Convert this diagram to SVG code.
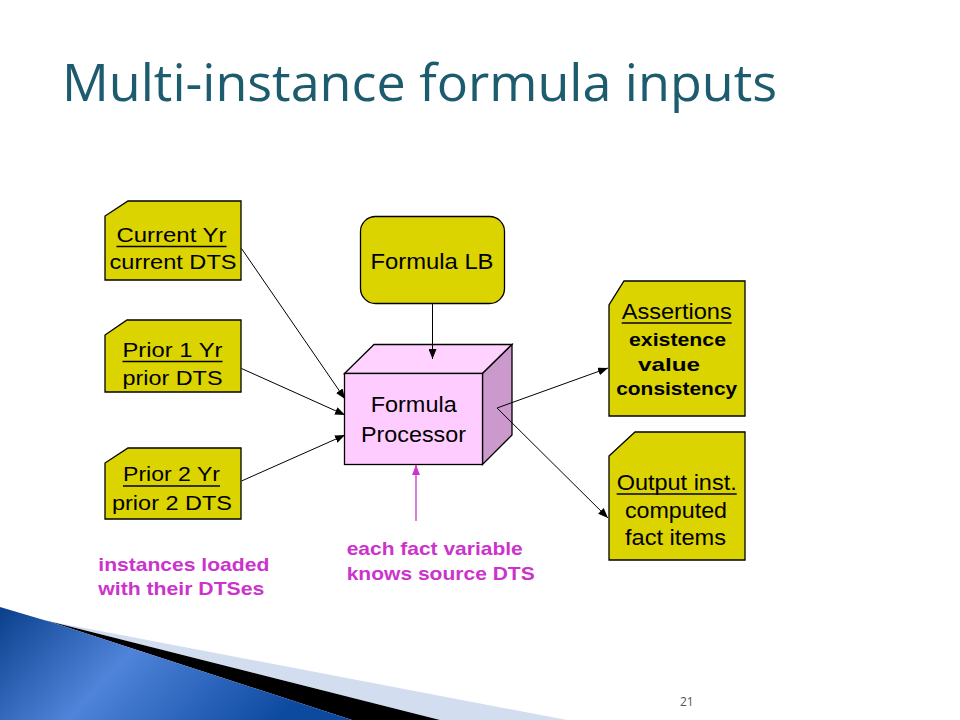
<svg xmlns="http://www.w3.org/2000/svg" width="960" height="720" viewBox="0 0 960 720">
<style>
.box{fill:#dcd400;stroke:#000;stroke-width:1.3}
.t{font-family:"Liberation Sans",Arial,sans-serif;fill:#000;text-anchor:middle}
.r20{font-size:20px}
.r22{font-size:22px}
.b19{font-size:19px;font-weight:bold}
.ul{stroke:#000;stroke-width:1.6}
.mg{font-family:"Liberation Sans",Arial,sans-serif;font-size:18.5px;font-weight:bold;fill:#cc33cc}
.con{stroke:#000;stroke-width:1;fill:none}
</style>
<defs>
<marker id="ah" viewBox="0 0 10 8" refX="10" refY="4" markerWidth="10" markerHeight="8" markerUnits="userSpaceOnUse" orient="auto">
<path d="M0,0 L10,4 L0,8 Z" fill="#000"/>
</marker>
<marker id="ahm" viewBox="0 0 10 8" refX="10" refY="4" markerWidth="10" markerHeight="8" markerUnits="userSpaceOnUse" orient="auto">
<path d="M0,0 L10,4 L0,8 Z" fill="#cc33cc"/>
</marker>
<linearGradient id="blue" x1="0" y1="0" x2="1" y2="0.3">
<stop offset="0" stop-color="#0a3f8c"/>
<stop offset="0.45" stop-color="#4f84da"/>
<stop offset="1" stop-color="#0c4aa0"/>
</linearGradient>
</defs>
<rect width="960" height="720" fill="#fff"/>

<g id="decoration">
<polygon points="48,621 567,720 440,720" fill="#d3ddf0"/>
<polygon points="44,620 440,720 352,720 54,623" fill="#000"/>
<polygon points="0,607 54,623 352,720 0,720" fill="url(#blue)"/>
</g>

<g id="title">
<text x="62" y="101" font-family="'Open Sans',sans-serif" font-size="52" fill="#1d5b6f" textLength="715" lengthAdjust="spacingAndGlyphs">Multi-instance formula inputs</text>
</g>

<g id="current-yr">
<path class="box" d="M128,201 L241,201 L241,280 L105,280 L105,216 Z"/>
<text class="t r20" x="171.5" y="241.5" textLength="110" lengthAdjust="spacingAndGlyphs">Current Yr</text>
<line class="ul" x1="116.5" y1="246.5" x2="226.5" y2="246.5"/>
<text class="t r20" x="173" y="269" textLength="127" lengthAdjust="spacingAndGlyphs">current DTS</text>
</g>

<g id="prior-1-yr">
<path class="box" d="M127,320 L241,320 L241,392 L105,392 L105,335 Z"/>
<text class="t r20" x="172.5" y="357" textLength="100" lengthAdjust="spacingAndGlyphs">Prior 1 Yr</text>
<line class="ul" x1="122.5" y1="361.5" x2="222.5" y2="361.5"/>
<text class="t r20" x="172.5" y="385" textLength="100" lengthAdjust="spacingAndGlyphs">prior DTS</text>
</g>

<g id="prior-2-yr">
<path class="box" d="M128,448 L241,448 L241,519 L105,519 L105,463 Z"/>
<text class="t r20" x="171.5" y="481" textLength="97" lengthAdjust="spacingAndGlyphs">Prior 2 Yr</text>
<line class="ul" x1="123" y1="486" x2="220" y2="486"/>
<text class="t r20" x="172" y="510" textLength="120" lengthAdjust="spacingAndGlyphs">prior 2 DTS</text>
</g>

<g id="formula-lb">
<rect class="box" x="360.5" y="216.5" width="144" height="87" rx="15" ry="15"/>
<text class="t r22" x="432" y="269" textLength="123" lengthAdjust="spacingAndGlyphs">Formula LB</text>
</g>

<g id="formula-processor">
<polygon points="344.5,373.5 374,344.5 512,344.5 482.5,373.5" fill="#ffd2ff" stroke="#000" stroke-width="1.3"/>
<polygon points="482.5,373.5 512,344.5 512,435 482.5,464.5" fill="#cc99cc" stroke="#000" stroke-width="1.3"/>
<rect x="344.5" y="373.5" width="138" height="91" fill="#ffccff" stroke="#000" stroke-width="1.3"/>
<text class="t r22" x="413.7" y="412" textLength="86" lengthAdjust="spacingAndGlyphs">Formula</text>
<text class="t r22" x="413.5" y="442" textLength="105" lengthAdjust="spacingAndGlyphs">Processor</text>
</g>

<g id="assertions">
<path class="box" d="M624,281 L745,281 L745,416 L609,416 L609,305 Z"/>
<text class="t r22" x="676.7" y="319" textLength="110" lengthAdjust="spacingAndGlyphs">Assertions</text>
<line class="ul" x1="621.7" y1="323" x2="731.7" y2="323"/>
<text class="t b19" x="677.5" y="345.5" textLength="97" lengthAdjust="spacingAndGlyphs">existence</text>
<text class="t b19" x="669" y="370.5" textLength="62" lengthAdjust="spacingAndGlyphs">value</text>
<text class="t b19" x="676.7" y="395" textLength="121" lengthAdjust="spacingAndGlyphs">consistency</text>
</g>

<g id="output-inst">
<path class="box" d="M635,432 L745,432 L745,560 L609,560 L609,456 Z"/>
<text class="t r22" x="676.7" y="490" textLength="120" lengthAdjust="spacingAndGlyphs">Output inst.</text>
<line class="ul" x1="616.7" y1="494" x2="736.7" y2="494"/>
<text class="t r22" x="676" y="517.5" textLength="102" lengthAdjust="spacingAndGlyphs">computed</text>
<text class="t r22" x="675.5" y="545" textLength="101" lengthAdjust="spacingAndGlyphs">fact items</text>
</g>

<g id="connectors">
<line class="con" x1="241.5" y1="248.5" x2="345" y2="399" marker-end="url(#ah)"/>
<line class="con" x1="241.5" y1="368.5" x2="345" y2="415" marker-end="url(#ah)"/>
<line class="con" x1="241.5" y1="481" x2="345" y2="435" marker-end="url(#ah)"/>
<line class="con" x1="432.5" y1="304" x2="432.5" y2="359" marker-end="url(#ah)"/>
<line class="con" x1="497" y1="408" x2="608" y2="368" marker-end="url(#ah)"/>
<line class="con" x1="497" y1="408" x2="608" y2="518" marker-end="url(#ah)"/>
<line x1="416" y1="521" x2="416" y2="465" stroke="#cc33cc" stroke-width="1.3" marker-end="url(#ahm)"/>
</g>

<g id="note-instances">
<text class="mg" x="98.3" y="571" textLength="171" lengthAdjust="spacingAndGlyphs">instances loaded</text>
<text class="mg" x="98.3" y="595" textLength="166" lengthAdjust="spacingAndGlyphs">with their DTSes</text>
</g>

<g id="note-fact-variable">
<text class="mg" x="346.7" y="555" textLength="176" lengthAdjust="spacingAndGlyphs">each fact variable</text>
<text class="mg" x="346.7" y="580" textLength="188" lengthAdjust="spacingAndGlyphs">knows source DTS</text>
</g>

<g id="page-number">
<text x="680" y="706" font-family="'Open Sans',sans-serif" font-size="12" fill="#555">21</text>
</g>
</svg>
